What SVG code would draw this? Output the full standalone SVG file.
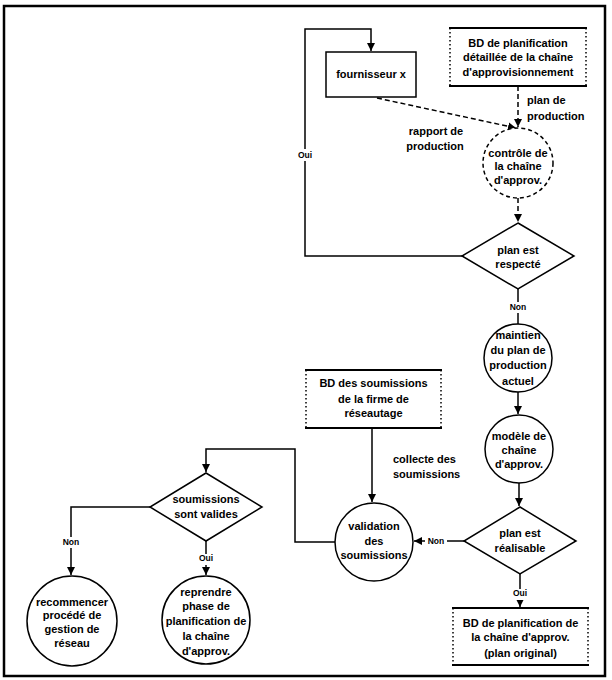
<svg xmlns="http://www.w3.org/2000/svg" width="612" height="680" viewBox="0 0 612 680">
<defs>
<marker id="ah" markerWidth="8" markerHeight="8" refX="8" refY="4" orient="auto" markerUnits="userSpaceOnUse">
<path d="M0,0 L8,4 L0,8 Z" fill="#000"/>
</marker>
<style>
text{font-family:"Liberation Sans",Arial,sans-serif;font-size:11px;font-weight:bold;text-anchor:middle;fill:#000}
.lbl{font-size:8.5px}
.la{text-anchor:start}
.sh{fill:#fff;stroke:#000;stroke-width:1.5}
.dot{fill:none;stroke:#000;stroke-width:1.5;stroke-dasharray:1.5 2.5}
.solid{stroke:#000;stroke-width:2}
.dash{fill:#fff;stroke:#000;stroke-width:1.5;stroke-dasharray:4 3}
.c{fill:none;stroke:#000;stroke-width:1.5}
.cd{fill:none;stroke:#000;stroke-width:1.5;stroke-dasharray:5 3}
.bg{fill:#fff}
</style>
</defs>
<rect x="4" y="6" width="601" height="670" fill="#fff" stroke="#000" stroke-width="2.5"/>

<g id="connectors">
<polyline class="c" points="462,256 305,256 305,29 371,29 371,51" marker-end="url(#ah)"/>
<line class="cd" x1="518" y1="86" x2="518" y2="127" marker-end="url(#ah)"/>
<line class="cd" x1="377" y1="98" x2="516" y2="128" marker-end="url(#ah)"/>
<line class="cd" x1="518" y1="198" x2="518" y2="222" marker-end="url(#ah)"/>
<line class="c" x1="518" y1="289" x2="518" y2="324"/>
<line class="c" x1="518" y1="392" x2="518" y2="414" marker-end="url(#ah)"/>
<line class="c" x1="519" y1="483" x2="519" y2="506" marker-end="url(#ah)"/>
<line class="c" x1="464" y1="541" x2="414" y2="541" marker-end="url(#ah)"/>
<line class="c" x1="520" y1="574" x2="520" y2="607" marker-end="url(#ah)"/>
<line class="c" x1="372" y1="428" x2="372" y2="502" marker-end="url(#ah)"/>
<polyline class="c" points="335,542 295,542 295,449 206,449 206,472" marker-end="url(#ah)"/>
<polyline class="c" points="150,507 71,507 71,575" marker-end="url(#ah)"/>
<line class="c" x1="206" y1="541" x2="206" y2="575" marker-end="url(#ah)"/>
<rect class="bg" x="296" y="149" width="18" height="12"/>
<text class="lbl" x="305" y="158">Oui</text>
<rect class="bg" x="507" y="302" width="22" height="11"/>
<text class="lbl" x="518" y="310">Non</text>
<rect class="bg" x="425" y="536" width="22" height="11"/>
<text class="lbl" x="436" y="544">Non</text>
<rect class="bg" x="511" y="589" width="18" height="11"/>
<text class="lbl" x="520" y="596">Oui</text>
<rect class="bg" x="60" y="537" width="22" height="11"/>
<text class="lbl" x="71" y="545">Non</text>
<rect class="bg" x="197" y="554" width="18" height="11"/>
<text class="lbl" x="206" y="561">Oui</text>
<text class="la" x="527" y="104">plan de</text>
<text class="la" x="527" y="120">production</text>
<text x="436" y="135">rapport de</text>
<text x="435" y="150">production</text>
<text class="la" x="393" y="463">collecte des</text>
<text class="la" x="393" y="478">soumissions</text>
</g>

<g id="fournisseur">
<rect class="sh" x="326" y="52" width="90" height="45"/>
<text x="371" y="78">fournisseur x</text>
</g>

<g id="bd_planif">
<rect x="450" y="28" width="136" height="58" fill="#fff"/>
<line class="dot" x1="450" y1="28" x2="450" y2="86"/>
<line class="dot" x1="586" y1="28" x2="586" y2="86"/>
<line class="solid" x1="449" y1="28" x2="587" y2="28"/>
<line class="solid" x1="449" y1="86" x2="587" y2="86"/>
<text x="518" y="47">BD de planification</text>
<text x="518" y="61">détaillée de la chaîne</text>
<text x="518" y="76">d'approvisionnement</text>
</g>

<g id="controle">
<circle class="dash" cx="518" cy="163" r="35"/>
<text x="518" y="157">contrôle de</text>
<text x="518" y="170">la chaîne</text>
<text x="518" y="184">d'approv.</text>
</g>

<g id="respecte">
<polygon class="sh" points="518,223 574,256 518,289 462,256"/>
<text x="518" y="254">plan est</text>
<text x="518" y="268">respecté</text>
</g>

<g id="maintien">
<circle class="sh" cx="518" cy="358" r="34"/>
<text x="518" y="339">maintien</text>
<text x="518" y="354">du plan de</text>
<text x="518" y="369">production</text>
<text x="518" y="385">actuel</text>
</g>

<g id="modele">
<circle class="sh" cx="519" cy="449" r="34"/>
<text x="519" y="440">modèle de</text>
<text x="519" y="454">chaîne</text>
<text x="519" y="468">d'approv.</text>
</g>

<g id="realisable">
<polygon class="sh" points="520,507 576,541 520,574 464,541"/>
<text x="520" y="537">plan est</text>
<text x="520" y="552">réalisable</text>
</g>

<g id="bd_original">
<rect x="453" y="608" width="135" height="57" fill="#fff"/>
<line class="dot" x1="453" y1="608" x2="453" y2="665"/>
<line class="dot" x1="588" y1="608" x2="588" y2="665"/>
<line class="solid" x1="452" y1="608" x2="589" y2="608"/>
<line class="solid" x1="452" y1="665" x2="589" y2="665"/>
<text x="520.5" y="627">BD de planification de</text>
<text x="520.5" y="641">la chaîne d'approv.</text>
<text x="520.5" y="657">(plan original)</text>
</g>

<g id="bd_soumissions">
<rect x="306" y="370" width="135" height="58" fill="#fff"/>
<line class="dot" x1="306" y1="370" x2="306" y2="428"/>
<line class="dot" x1="441" y1="370" x2="441" y2="428"/>
<line class="solid" x1="305" y1="370" x2="442" y2="370"/>
<line class="solid" x1="305" y1="428" x2="442" y2="428"/>
<text x="373.5" y="387">BD des soumissions</text>
<text x="373.5" y="403">de la firme de</text>
<text x="373.5" y="417">réseautage</text>
</g>

<g id="validation">
<circle class="sh" cx="374" cy="542" r="39"/>
<text x="374" y="530">validation</text>
<text x="374" y="545">des</text>
<text x="374" y="559">soumissions</text>
</g>

<g id="valides">
<polygon class="sh" points="206,473 262,507 206,541 150,507"/>
<text x="206" y="503">soumissions</text>
<text x="206" y="518">sont valides</text>
</g>

<g id="recommencer">
<circle class="sh" cx="72" cy="621" r="45"/>
<text x="72" y="606">recommencer</text>
<text x="72" y="619">procédé de</text>
<text x="72" y="633">gestion de</text>
<text x="72" y="647">réseau</text>
</g>

<g id="reprendre">
<circle class="sh" cx="206" cy="620" r="44"/>
<text x="206" y="596">reprendre</text>
<text x="206" y="610">phase de</text>
<text x="206" y="625">planification de</text>
<text x="206" y="640">la chaîne</text>
<text x="206" y="655">d'approv.</text>
</g>
</svg>
